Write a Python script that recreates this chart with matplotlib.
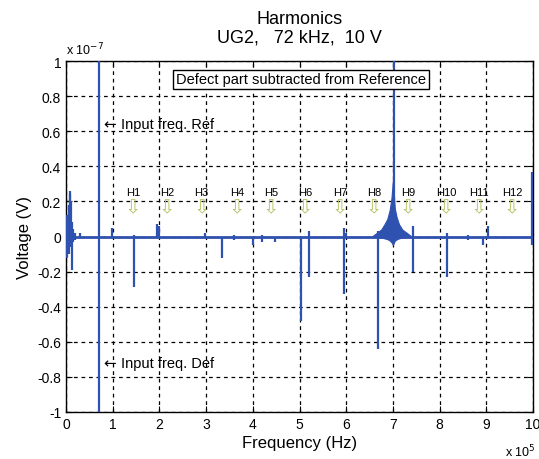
import matplotlib
matplotlib.use("Agg")
import matplotlib.pyplot as plt
import numpy as np

plt.rcParams['font.family'] = ['Liberation Sans', 'DejaVu Sans']

# Spikes: frequency (x 1e5 Hz), top and bottom of each spike (x 1e-7 V)
spike_freq = [0.01, 0.02, 0.04, 0.06, 0.08, 0.09, 0.11, 0.13, 0.16, 0.20, 0.30,
              0.713, 0.98, 1.46, 1.95, 1.99, 2.98, 3.33, 3.6, 4.0, 4.2, 4.47,
              5.03, 5.2, 5.95, 6.0, 6.68, 7.02, 7.43, 8.16, 8.6, 8.93, 9.04, 9.98]
spike_top = [0.10, 0.12, 0.10, 0.18, 0.24, 0.26, 0.20, 0.08, 0.04, 0.02, 0.02,
             1.2, 0.05, 0.01, 0.07, 0.06, 0.02, 0.0, 0.01, 0.0, 0.01, 0.0,
             0.0, 0.03, 0.05, 0.02, 0.03, 1.2, 0.06, 0.02, 0.01, 0.0, 0.06, 0.37]
spike_bottom = [-0.10, -0.12, -0.08, -0.10, -0.06, -0.04, -0.05, -0.19, -0.03, -0.02, -0.01,
                -1.2, 0.0, -0.285, 0.0, 0.0, -0.01, -0.12, -0.02, -0.05, -0.03, -0.03,
                -0.48, -0.23, -0.33, -0.01, -0.64, -0.02, -0.20, -0.23, -0.02, -0.05, 0.0, -0.05]

# Broad hump around 700 kHz
hump_freq = [6.55, 6.65, 6.75, 6.82, 6.88, 6.93, 6.97, 7.0, 7.04, 7.08, 7.13, 7.2, 7.3, 7.4]
hump_top = [0.0, 0.02, 0.04, 0.07, 0.10, 0.15, 0.22, 0.32, 0.16, 0.11, 0.07, 0.04, 0.02, 0.0]

# Baseline
base_freq = [0.0, 10.0]
base_val = [0.0, 0.0]

# Harmonic markers
h_labels = ['H1', 'H2', 'H3', 'H4', 'H5', 'H6', 'H7', 'H8', 'H9', 'H10', 'H11', 'H12']
h_freq = [1.43, 2.16, 2.90, 3.66, 4.39, 5.12, 5.87, 6.60, 7.32, 8.14, 8.84, 9.55]

xticks = [0, 1, 2, 3, 4, 5, 6, 7, 8, 9, 10]
yticks = [-1, -0.8, -0.6, -0.4, -0.2, 0, 0.2, 0.4, 0.6, 0.8, 1]

blue = '#2f52b0'

fig = plt.figure(figsize=(5.39, 4.60), dpi=100)
ax = fig.add_axes([66/539, 1-413/460, (533-66)/539, (413-62)/460])

ax.plot(base_freq, base_val, color=blue, lw=2.0, zorder=3)
ax.fill_between(hump_freq, [-v*0.15 for v in hump_top], hump_top, color=blue, lw=0.8, zorder=3)
ax.vlines(spike_freq, spike_bottom, spike_top, color=blue, lw=1.6, zorder=3)

ax.set_xlim(0, 10)
ax.set_ylim(-1, 1)
ax.set_xticks(xticks)
ax.set_yticks(yticks)
ax.set_xticklabels([str(t) for t in xticks])
ax.set_yticklabels(['%g' % t for t in yticks])
ax.tick_params(direction='in', top=True, right=True, labelsize=10, length=4, width=0.8)
ax.grid(True, color='black', linestyle=(0, (3, 3)), linewidth=0.9)
for s in ax.spines.values():
    s.set_linewidth(1.0)

ax.set_xlabel('Frequency (Hz)', fontsize=12, labelpad=3)
ax.set_ylabel('Voltage (V)', fontsize=12, labelpad=4)
ax.set_title('Harmonics\nUG2,   72 kHz,  10 V', fontsize=13, pad=14, linespacing=1.1)

fig.text(66/539, 1-50/460, r'x 10$^{-7}$', fontsize=9, ha='left', va='center')
fig.text(505/539, 1-452/460, r'x 10$^{5}$', fontsize=9, ha='left', va='center')

ax.text(5.03, 0.895, 'Defect part subtracted from Reference', fontsize=10.5, ha='center', va='center',
        bbox=dict(boxstyle='square,pad=0.2', fc='white', ec='black', lw=1.0), zorder=5)
ax.text(0.79, 0.64, '\u2190', fontsize=11, ha='left', va='center', zorder=5, family='DejaVu Sans')
ax.text(1.18, 0.64, 'Input freq. Ref', fontsize=10.5, ha='left', va='center', zorder=5)
ax.text(0.79, -0.72, '\u2190', fontsize=11, ha='left', va='center', zorder=5, family='DejaVu Sans')
ax.text(1.18, -0.72, 'Input freq. Def', fontsize=10.5, ha='left', va='center', zorder=5)

for lab, f in zip(h_labels, h_freq):
    ax.text(f, 0.256, lab, fontsize=8, ha='center', va='center', zorder=5)
    ax.text(f, 0.17, '\u21e9', fontsize=14, ha='center', va='center', color='#b9c46a', zorder=5,
            family='DejaVu Sans')

fig.savefig('out.png', dpi=100)
